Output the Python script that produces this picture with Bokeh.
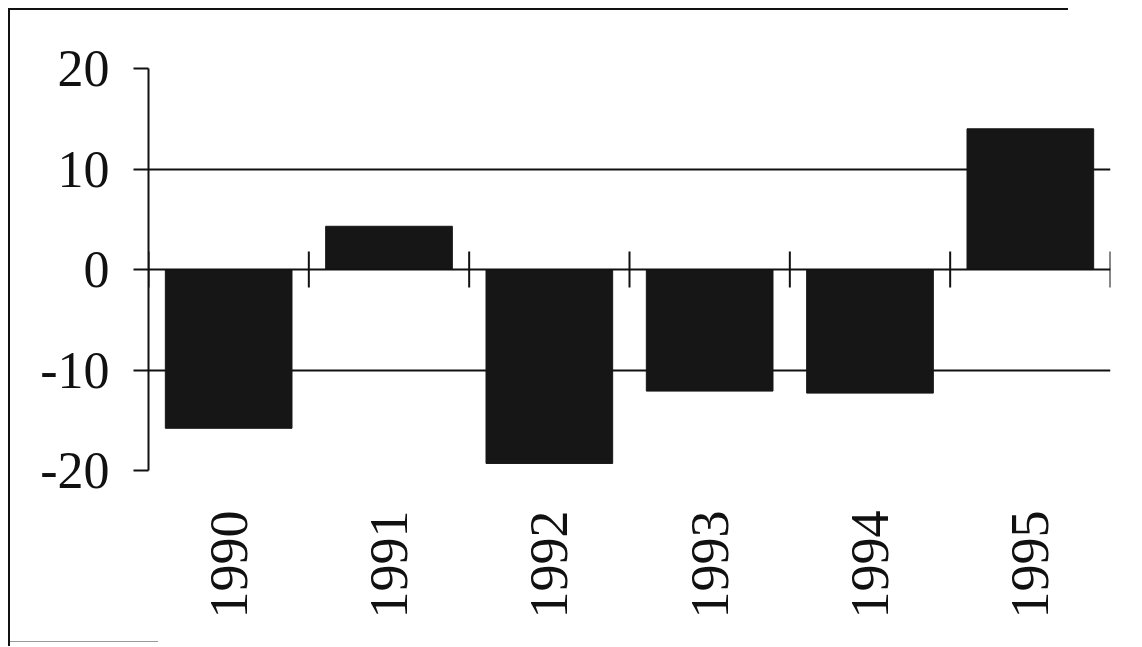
import numpy as np
from bokeh.plotting import figure
from bokeh.models import LinearAxis, FixedTicker, Range1d, ColumnDataSource, Span
from bokeh.embed import file_html
from bokeh.resources import INLINE

years = ["1990", "1991", "1992", "1993", "1994", "1995"]
values = [-15.8, 4.3, -19.3, -12.1, -12.3, 14.0]
y_ticks = [-20, -10, 0, 10, 20]
y_tick_labels = ["-20", "-10", "0", "10", "20"]
grid_ticks = [-10, 10]

n = len(years)
centers = [i + 0.5 for i in range(n)]
bounds = list(range(n + 1))

FONT = "Liberation Serif"
INK = "#111111"

p = figure(frame_width=962, frame_height=402,
           x_range=Range1d(0, n), y_range=Range1d(-20, 20),
           output_backend="svg", toolbar_location=None,
           min_border_left=148, min_border_right=31,
           min_border_top=68, min_border_bottom=176,
           x_axis_location=None, y_axis_location=None)
p.outline_line_color = None
p.background_fill_color = "white"
p.border_fill_color = None
# scanned page frame: left and top rules, faint bottom fragment
p.styles = {
    "background": (
        "linear-gradient(#111111,#111111) 8px 8px / 2px 100% no-repeat, "
        "linear-gradient(#111111,#111111) 8px 8px / 1060px 2px no-repeat, "
        "linear-gradient(#999999,#999999) 8px 641px / 150px 1px no-repeat, "
        "white"
    )
}

# grid lines at +/-10
p.xgrid.visible = False
p.ygrid.ticker = FixedTicker(ticks=grid_ticks)
p.ygrid.grid_line_color = INK
p.ygrid.grid_line_width = 2

src = ColumnDataSource(dict(x=centers, top=values, year=years))
p.vbar(x="x", top="top", bottom=0, width=0.79, source=src,
       fill_color="#161616", line_color="#161616")

# zero line with ticks at category boundaries
p.add_layout(Span(location=0, dimension="width", line_color=INK, line_width=2))
p.segment(x0=bounds, x1=bounds, y0=[-1.8] * len(bounds), y1=[1.8] * len(bounds),
          line_color=INK, line_width=2)

# y axis
yax = LinearAxis(ticker=FixedTicker(ticks=y_ticks),
                 major_label_overrides={t: s for t, s in zip(y_ticks, y_tick_labels)})
yax.axis_line_color = INK
yax.axis_line_width = 2
yax.major_tick_line_color = INK
yax.major_tick_line_width = 2
yax.major_tick_in = 0
yax.major_tick_out = 15
yax.minor_tick_line_color = None
yax.major_label_text_font = FONT
yax.major_label_text_font_size = "52px"
yax.major_label_text_color = INK
yax.major_label_standoff = 24
p.add_layout(yax, "left")

# year labels below
lab = LinearAxis(ticker=FixedTicker(ticks=centers),
                 major_label_overrides={c: y for c, y in zip(centers, years)})
lab.axis_line_color = None
lab.major_tick_line_color = None
lab.minor_tick_line_color = None
lab.major_label_orientation = np.pi / 2
lab.major_label_text_font = FONT
lab.major_label_text_font_size = "54px"
lab.major_label_text_color = INK
lab.major_label_standoff = 34
p.add_layout(lab, "below")

open("out.html", "w").write(file_html(p, INLINE))
